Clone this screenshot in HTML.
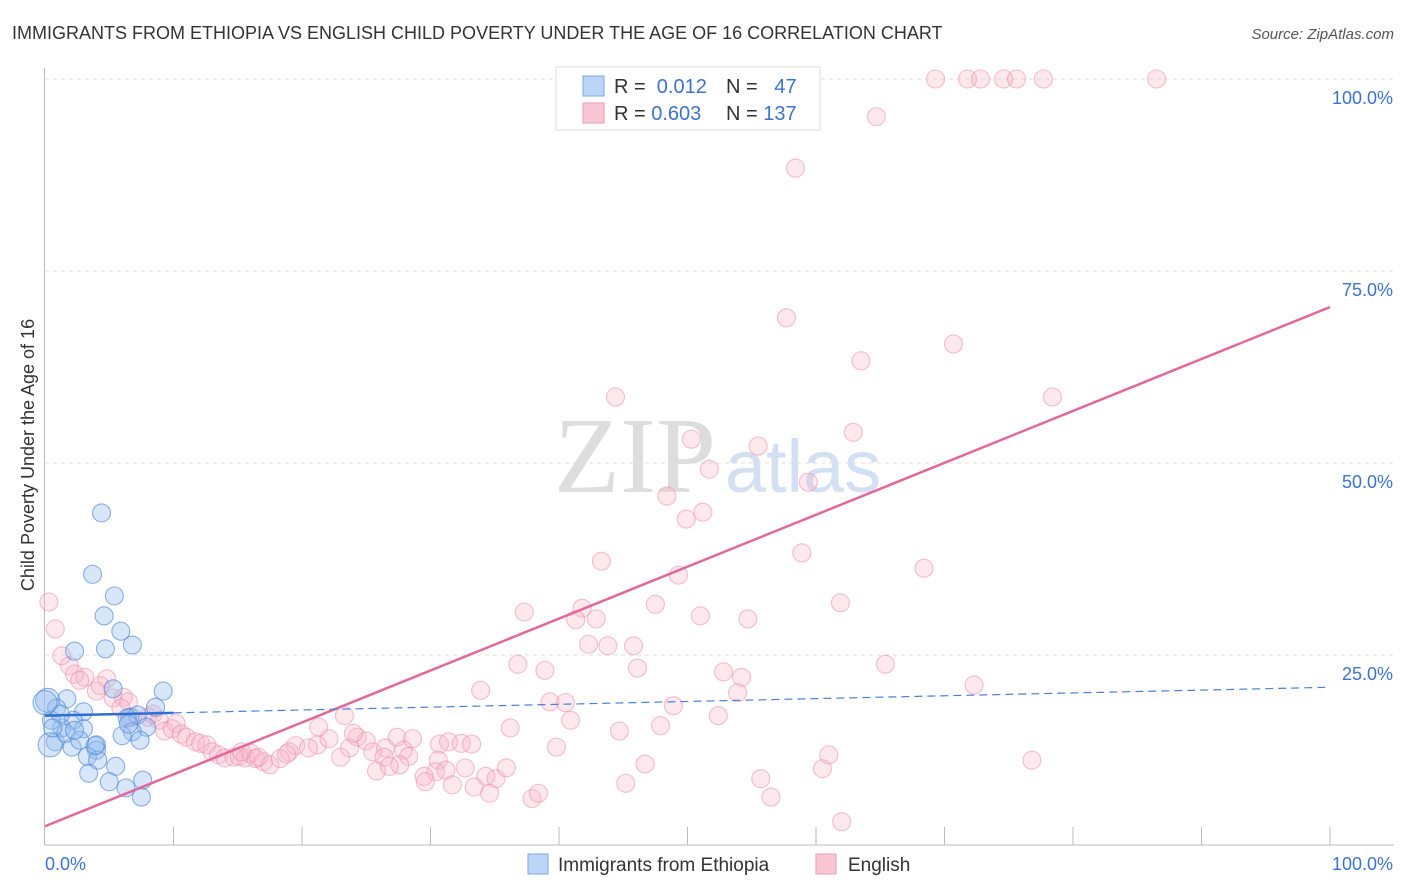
<!DOCTYPE html>
<html><head><meta charset="utf-8"><style>
body{margin:0;background:#fff;width:1406px;height:892px;overflow:hidden;font-family:"Liberation Sans",sans-serif}
</style></head><body>
<svg id="chart" width="1406" height="892" style="position:absolute;left:0;top:0">
<text x="12" y="39" font-size="18" fill="#333">IMMIGRANTS FROM ETHIOPIA VS ENGLISH CHILD POVERTY UNDER THE AGE OF 16 CORRELATION CHART</text>
<text x="1394" y="39" font-size="15" fill="#555" font-style="italic" text-anchor="end">Source: ZipAtlas.com</text>
<text x="635" y="492" font-size="108" fill="#ddd" font-family="Liberation Serif,serif" text-anchor="middle">ZIP</text>
<text x="803" y="492" font-size="74" fill="#d3e0f3" text-anchor="middle">atlas</text>
<text transform="translate(34,455) rotate(-90)" font-size="18" fill="#333" text-anchor="middle">Child Poverty Under the Age of 16</text>
<g id="grid"></g><g id="marks"></g><g id="trend"></g>
<g>
<rect x="556" y="67" width="264" height="63" fill="#fff" stroke="#ddd"/>
<rect x="583" y="76" width="21" height="20" fill="#bcd4f5" stroke="#7aa7e6"/>
<rect x="583" y="103" width="21" height="20" fill="#f9c6d5" stroke="#ee9ab5"/>
<text x="614" y="93" font-size="20" fill="#333">R = <tspan fill="#3b73d1">&#160;0.012</tspan></text>
<text x="726" y="93" font-size="20" fill="#333">N = <tspan fill="#3b73d1">&#160;&#160;47</tspan></text>
<text x="614" y="120" font-size="20" fill="#333">R = <tspan fill="#3b73d1">0.603</tspan></text>
<text x="726" y="120" font-size="20" fill="#333">N = <tspan fill="#3b73d1">137</tspan></text>
</g>
<g>
<rect x="528" y="854" width="20" height="20" fill="#bcd4f5" stroke="#7aa7e6"/>
<text x="558" y="871" font-size="19" fill="#333">Immigrants from Ethiopia</text>
<rect x="816" y="854" width="20" height="20" fill="#f9c6d5" stroke="#ee9ab5"/>
<text x="848" y="871" font-size="19" fill="#333">English</text>
</g>
</svg>
<script>
const blueX=[4.4,3.7,5.4,4.6,5.9,2.3,4.7,6.8,9.2,5.3,8.6,1.7,0.2,0.9,3.0,2.2,1.3,0.5,6.6,7.2,7.9,6.4,6.8,6.0,7.4,3.0,0.8,2.1,4.0,4.0,3.3,4.1,5.5,3.4,5.0,6.3,7.6,7.5,0.4,1.2,1.6,2.7,0.0,6.5,0.6,2.3,3.9];
const blueY=[43.5,35.5,32.7,30.1,28.1,25.5,25.8,26.3,20.3,20.6,18.2,19.3,19.1,18.1,17.6,16.5,15.5,16.5,16.9,17.2,15.6,16.8,15.0,14.5,13.9,15.4,13.7,13.0,13.3,12.6,11.8,11.3,10.5,9.6,8.5,7.7,8.7,6.5,13.3,17.3,14.8,13.9,18.8,16.0,15.5,15.2,13.2];
const pinkX=[53.7,69.3,71.8,72.8,74.6,75.6,77.7,86.5,64.7,58.4,57.7,70.7,63.5,44.4,78.4,62.9,50.3,55.5,51.7,59.4,48.4,51.2,49.9,58.9,43.3,68.4,49.3,41.8,37.3,47.5,61.9,51.0,42.9,41.3,54.7,42.3,43.8,45.8,46.1,36.8,38.9,65.4,52.8,54.2,33.9,53.9,72.3,39.3,40.5,48.9,52.4,40.9,36.2,47.9,76.8,23.3,21.3,21.2,23.0,19.5,20.5,19.0,22.1,24.3,25.0,25.5,26.5,27.4,28.6,27.9,28.3,27.6,26.4,25.8,26.8,23.7,24.0,30.7,31.4,32.4,33.2,30.6,30.4,29.5,29.6,32.7,31.2,31.7,34.3,35.1,34.6,33.4,35.9,37.9,38.4,39.8,44.7,46.7,45.2,55.7,56.5,60.5,61.0,62.0,0.3,0.8,1.3,1.9,2.3,3.1,2.7,4.8,4.0,4.3,5.3,6.1,6.5,5.9,6.8,8.0,8.4,8.9,9.3,10.2,9.9,10.6,11.0,11.7,12.1,12.6,13.0,13.5,14.0,14.7,15.1,15.6,16.0,16.4,17.0,17.5,18.3,18.8,16.6,15.3];
const pinkY=[100,100,100,100,100,100,100,100,95.1,88.4,68.9,65.5,63.3,58.6,58.6,54.0,53.1,52.2,49.2,47.5,45.7,43.6,42.7,38.3,37.2,36.3,35.4,31.1,30.6,31.6,31.8,30.1,29.7,29.6,29.7,26.4,26.2,26.2,23.3,23.8,23.0,23.8,22.8,22.1,20.4,20.1,21.1,18.9,18.8,18.4,17.1,16.5,15.5,15.8,11.3,17.1,15.6,13.3,11.7,13.2,12.9,12.4,14.1,14.3,13.8,12.4,12.9,14.3,14.1,12.6,11.8,10.7,11.7,9.9,10.5,12.9,14.8,13.4,13.7,13.5,13.4,11.3,9.8,9.2,8.5,10.3,10.0,8.1,9.2,8.9,7.0,7.8,10.3,6.3,7.0,13.0,15.1,10.8,8.3,8.9,6.5,10.2,12.0,3.3,31.9,28.4,24.9,23.6,22.5,22.1,21.7,21.9,20.3,21.0,19.4,19.5,18.9,18.1,16.9,16.9,17.3,16.5,15.1,16.1,15.4,14.7,14.3,13.7,13.5,13.3,12.4,12.0,11.6,11.7,11.8,11.6,12.2,11.5,11.1,10.7,11.5,12.1,11.7,12.4];
const yTicks=[25,50,75,100];
const yTickLabels=["25.0%","50.0%","75.0%","100.0%"];
const xTickLabels=["0.0%","100.0%"];
const pinkTrend=[2.7,70.3];
const blueTrend=[17.1,20.8];
const NS="http://www.w3.org/2000/svg";
const X=v=>45+v*12.85, Y=v=>847-v*7.68;
function mk(tag,attrs,parent){const e=document.createElementNS(NS,tag);for(const k in attrs)e.setAttribute(k,attrs[k]);document.getElementById(parent).appendChild(e);return e;}
yTicks.forEach((t,i)=>{
 const l=mk('line',{x1:45,x2:1394,y1:Y(t),y2:Y(t),stroke:'#ddd','stroke-dasharray':'4,4'},'grid');
 
 
 const tx=mk('text',{x:1393,y:Y(t)+25,'font-size':18,fill:'#3b73d1','text-anchor':'end'},'grid');tx.textContent=yTickLabels[i];
 
 
});
let a=mk('line',{x1:44.5,x2:44.5,y1:68,y2:845,stroke:'#bbb'},'grid');


a=mk('line',{x1:44.5,x2:1394,y1:845,y2:845,stroke:'#bbb'},'grid');


for(let i=1;i<=10;i++){const t=mk('line',{x1:X(i*10),x2:X(i*10),y1:827,y2:845,stroke:'#bbb'},'grid');
 
 }
let t0=mk('text',{x:45,y:870,'font-size':18,fill:'#3b73d1'},'grid');t0.textContent=xTickLabels[0];


t0=mk('text',{x:1393,y:870,'font-size':18,fill:'#3b73d1','text-anchor':'end'},'grid');t0.textContent=xTickLabels[1];


pinkX.forEach((x,i)=>{const c=mk('circle',{cx:X(x),cy:Y(pinkY[i]),r:9,fill:'rgba(248,180,200,0.3)',stroke:'rgba(236,140,170,0.55)','stroke-width':1.1},'marks');
 
 });
blueX.forEach((x,i)=>{const c=mk('circle',{cx:X(x),cy:Y(blueY[i]),r:x<0.5?12:9,fill:'rgba(150,188,238,0.38)',stroke:'rgba(70,128,214,0.6)','stroke-width':1.1},'marks');
 
 });
let l=mk('line',{x1:X(0),y1:Y(pinkTrend[0]),x2:X(100),y2:Y(pinkTrend[1]),stroke:'#e4679a','stroke-width':2.5},'trend');


const bAt=v=>blueTrend[0]+(blueTrend[1]-blueTrend[0])*v/100;
l=mk('line',{x1:X(10),y1:Y(bAt(10)),x2:X(100),y2:Y(bAt(100)),stroke:'#4a80d6','stroke-width':1.2,'stroke-dasharray':'8,5'},'trend');


l=mk('line',{x1:X(0),y1:Y(bAt(0)),x2:X(10),y2:Y(bAt(10)),stroke:'#2f6fd4','stroke-width':2.5},'trend');


</script>
</body></html>
